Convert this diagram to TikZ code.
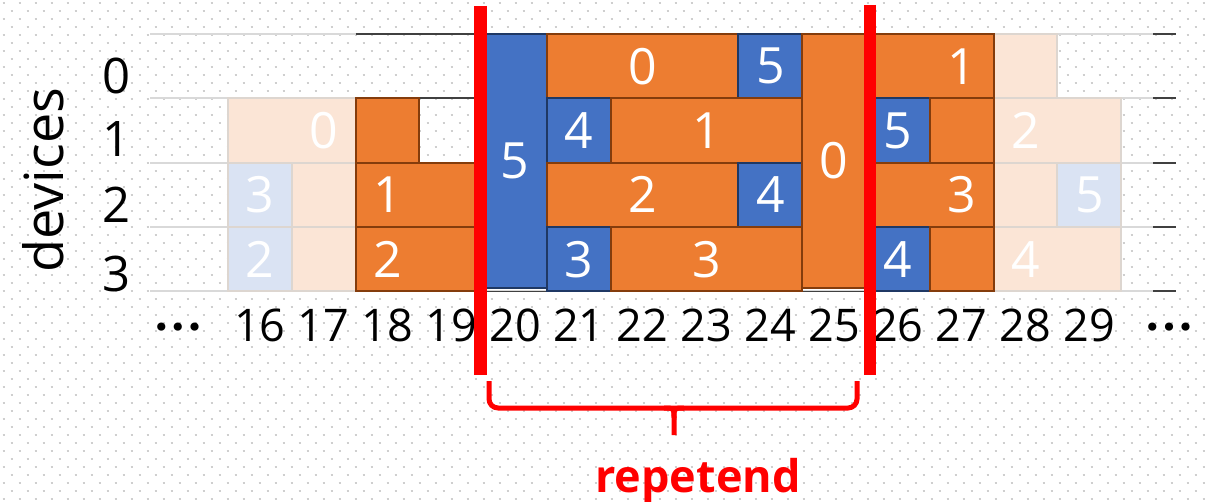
\documentclass[tikz,border=0pt]{standalone}
\usepackage{fontspec}
\setmainfont{Open Sans}
\newfontfamily\symfont{DejaVu Sans}
\definecolor{dotgray}{HTML}{CFCFCF}
\definecolor{gridgray}{HTML}{D9D9D9}
\definecolor{gdark}{HTML}{404040}
\definecolor{orF}{HTML}{ED7D31}
\definecolor{orD}{HTML}{843C0C}
\definecolor{blF}{HTML}{4472C4}
\definecolor{blD}{HTML}{1F3864}
\definecolor{lorF}{HTML}{FBE5D6}
\definecolor{lblF}{HTML}{DAE3F3}
\definecolor{lightedge}{HTML}{DDD6D0}
\definecolor{mark}{HTML}{FF0000}
% one cell block: style, first column, row, number of columns, number of rows
\newcommand\cellbox[5]{\draw[#1] ({228+(#2-16)*63.8},{34+(#3)*64.33}) rectangle ++({(#4)*63.8},{(#5)*64.33});}
% one block label: name, column, row, text
\newcommand\celllabel[4]{\node[celltext] (#1) at ({228+(#2-15.5)*63.8},{34+(#3+0.5)*64.33}) {#4};}
\begin{document}
\begin{tikzpicture}[x=1pt,y=-1pt,
  dotrow/.style={draw=dotgray,line width=2pt,dash pattern=on 2pt off 14pt},
  gridline/.style={draw=gridgray,line width=2pt},
  darkline/.style={draw=gdark,line width=2pt},
  orbox/.style={fill=orF,draw=orD,line width=2pt},
  blbox/.style={fill=blF,draw=blD,line width=2pt},
  lorbox/.style={fill=lorF,draw=lightedge,line width=2pt},
  lblbox/.style={fill=lblF,draw=lightedge,line width=2pt},
  celltext/.style={text=white,font=\fontsize{50}{60}\selectfont,inner sep=0pt},
  axistext/.style={text=black,font=\fontsize{45}{54}\selectfont,inner sep=0pt,anchor=base},
  rowtext/.style={text=black,font=\fontsize{49}{58}\selectfont,inner sep=0pt,anchor=base},
  elltext/.style={text=black,font=\symfont\fontsize{28}{34}\selectfont,inner sep=0pt,anchor=center},
  redbar/.style={draw=mark,line width=12.5pt},
  brace/.style={draw=mark,line width=5pt,rounded corners=9pt},
]
\useasboundingbox (0,0) rectangle (1207,502);
\fill[white] (0,0) rectangle (1207,502);

% dotted background, staggered rows
\foreach \j in {0,...,31}{
  \draw[dotrow] (2.7,{3+16*\j}) -- (1207,{3+16*\j});
  \draw[dotrow] (10.7,{11+16*\j}) -- (1207,{11+16*\j});
}

% horizontal grid lines with end ticks
\foreach \y in {34,98.33,162.67,227,291.33}{
  \draw[gridline] (150,\y) -- (1153,\y);
  \draw[darkline] (1153,\y) -- (1176,\y);
}
\draw[darkline] (355.6,34) -- (483.2,34);
\draw[darkline] (419.4,98.33) -- (483.2,98.33);
\draw[darkline,line width=1.5pt] (483.2,291.33) -- (547,291.33);
\draw[darkline,line width=1.5pt] (802.2,291.33) -- (866,291.33);

% faded blocks
\cellbox{lorbox}{16}{1}{2}{1}
\cellbox{lblbox}{16}{2}{1}{1}
\cellbox{lorbox}{17}{2}{1}{1}
\cellbox{lblbox}{16}{3}{1}{1}
\cellbox{lorbox}{17}{3}{1}{1}
\cellbox{lorbox}{28}{0}{1}{1}
\cellbox{lorbox}{28}{1}{2}{1}
\cellbox{lorbox}{28}{2}{1}{1}
\cellbox{lblbox}{29}{2}{1}{1}
\cellbox{lorbox}{28}{3}{2}{1}

% blocks before the period
\cellbox{orbox}{18}{1}{1}{1}
\cellbox{orbox}{18}{2}{2}{1}
\cellbox{orbox}{18}{3}{2}{1}

% the repeating period
\draw[blbox] (483.2,34) rectangle (547,288);
\cellbox{orbox}{21}{0}{3}{1}
\cellbox{blbox}{24}{0}{1}{1}
\cellbox{blbox}{21}{1}{1}{1}
\cellbox{orbox}{22}{1}{3}{1}
\cellbox{orbox}{21}{2}{3}{1}
\cellbox{blbox}{24}{2}{1}{1}
\cellbox{blbox}{21}{3}{1}{1}
\cellbox{orbox}{22}{3}{3}{1}
\draw[orbox] (802.2,34) rectangle (866,288);

% blocks after the period
\cellbox{orbox}{26}{0}{2}{1}
\cellbox{blbox}{26}{1}{1}{1}
\cellbox{orbox}{27}{1}{1}{1}
\cellbox{orbox}{26}{2}{2}{1}
\cellbox{blbox}{26}{3}{1}{1}
\cellbox{orbox}{27}{3}{1}{1}

% block labels
\celllabel{fa}{17}{1}{0}
\celllabel{fb}{16}{2}{3}
\celllabel{fc}{16}{3}{2}
\celllabel{pa}{18}{2}{1}
\celllabel{pb}{18}{3}{2}
\celllabel{ta}{20}{1.47}{5}
\celllabel{tb}{22}{0}{0}
\celllabel{tc}{24}{0}{5}
\celllabel{td}{21}{1}{4}
\celllabel{te}{23}{1}{1}
\celllabel{tf}{22}{2}{2}
\celllabel{tg}{24}{2}{4}
\celllabel{th}{21}{3}{3}
\celllabel{ti}{23}{3}{3}
\celllabel{tj}{25}{1.47}{0}
\celllabel{na}{27}{0}{1}
\celllabel{nb}{26}{1}{5}
\celllabel{nc}{28}{1}{2}
\celllabel{nd}{27}{2}{3}
\celllabel{ne}{29}{2}{5}
\celllabel{nf}{26}{3}{4}
\celllabel{ng}{28}{3}{4}

% axis texts
\node[rotate=90,anchor=base,inner sep=0pt,font=\fontsize{54}{64}\selectfont] (dev) at (63,180) {devices};
\node[rowtext] (r0) at (116.5,93.5) {0};
\node[rowtext] (r1) at (116.5,157) {1};
\node[rowtext] (r2) at (116.5,223) {2};
\node[rowtext] (r3) at (116.5,292) {3};
\node[elltext] (eL) at (178,330) {•••};
\node[elltext] (eR) at (1169,330) {•••};
\foreach \c in {16,...,29}{
  \node[axistext] (c\c) at ({228+(\c-15.5)*63.8},342) {\c};
}

% period markers and brace
\coordinate (m1a) at (480.5,6);
\coordinate (m1b) at (480.5,375);
\coordinate (m2a) at (870,5);
\coordinate (m2b) at (870,375);
\draw[redbar] (m1a) -- (m1b);
\draw[redbar] (m2a) -- (m2b);
\coordinate (bl) at (489,381);
\coordinate (br) at (857,381);
\coordinate (bm) at (674,408);
\coordinate (bt) at (674,435);
\draw[brace] (bl) -- (bl |- bm) -- (br |- bm) -- (br);
\draw[draw=mark,line width=5pt] (664,408) .. controls (674,408) .. (674,418) -- (bt);
\draw[draw=mark,line width=5pt] (684,408) .. controls (674,408) .. (674,418);
\node[anchor=base,inner sep=0pt,text=mark,font=\fontsize{45}{54}\selectfont\bfseries] (rep) at (698,492) {repetend};
\end{tikzpicture}
\end{document}
